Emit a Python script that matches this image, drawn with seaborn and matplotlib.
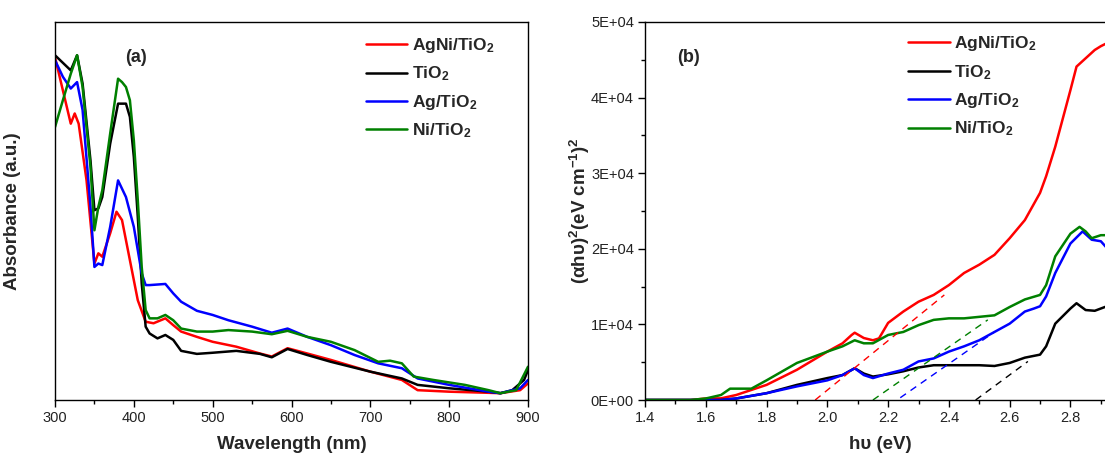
import numpy as np
import pandas as pd
import matplotlib
matplotlib.use("Agg")
import matplotlib.pyplot as plt
import seaborn as sns
from matplotlib.ticker import MultipleLocator, FixedLocator, FuncFormatter

# ---------------- data: panel (a) absorbance (arbitrary units) ----------------
series_names = ["AgNi/TiO$_\\mathbf{2}$", "TiO$_\\mathbf{2}$", "Ag/TiO$_\\mathbf{2}$", "Ni/TiO$_\\mathbf{2}$"]
series_colors = ["#FF0000", "#000000", "#0000FF", "#008000"]

wl_agni = [300, 310, 320, 325, 330, 340, 350, 355, 360, 370, 378, 385, 395, 405, 415, 425, 440, 450, 460,
           480, 500, 530, 560, 575, 595, 620, 650, 700, 740, 760, 800, 850, 865, 890, 900]
abs_agni = [0.907, 0.819, 0.731, 0.758, 0.731, 0.581, 0.361, 0.388, 0.379, 0.441, 0.498, 0.476, 0.370,
            0.264, 0.207, 0.203, 0.216, 0.198, 0.181, 0.167, 0.154, 0.141, 0.123, 0.115, 0.137, 0.123,
            0.106, 0.075, 0.053, 0.026, 0.022, 0.019, 0.018, 0.026, 0.044]

wl_tio2 = [300, 320, 328, 335, 345, 350, 355, 360, 370, 380, 390, 395, 400, 405, 410, 415, 420, 430, 440,
           450, 460, 480, 500, 530, 560, 575, 595, 620, 650, 700, 740, 760, 800, 850, 865, 880, 895, 900]
abs_tio2 = [0.912, 0.872, 0.912, 0.837, 0.634, 0.502, 0.507, 0.537, 0.678, 0.784, 0.784, 0.749, 0.643,
            0.485, 0.308, 0.194, 0.176, 0.163, 0.172, 0.159, 0.130, 0.122, 0.125, 0.130, 0.122, 0.113,
            0.135, 0.119, 0.101, 0.075, 0.057, 0.040, 0.031, 0.022, 0.018, 0.026, 0.053, 0.079]

wl_ag = [300, 310, 320, 328, 335, 345, 350, 355, 360, 370, 380, 390, 400, 410, 415, 420, 440, 450, 460,
         480, 500, 520, 550, 575, 595, 620, 650, 680, 710, 740, 760, 800, 850, 865, 890, 900]
abs_ag = [0.899, 0.855, 0.824, 0.841, 0.767, 0.511, 0.352, 0.361, 0.357, 0.458, 0.581, 0.537, 0.458,
          0.335, 0.304, 0.304, 0.307, 0.282, 0.260, 0.236, 0.225, 0.211, 0.194, 0.178, 0.189, 0.167,
          0.145, 0.119, 0.097, 0.084, 0.057, 0.040, 0.022, 0.018, 0.031, 0.053]

wl_ni = [300, 310, 320, 328, 335, 345, 350, 355, 360, 370, 380, 385, 390, 395, 400, 405, 410, 415, 420,
         430, 440, 450, 460, 480, 500, 520, 550, 575, 595, 620, 650, 680, 710, 725, 740, 755, 780, 820,
         850, 865, 885, 900]
abs_ni = [0.722, 0.793, 0.863, 0.912, 0.828, 0.617, 0.449, 0.511, 0.555, 0.705, 0.850, 0.841, 0.828,
          0.793, 0.687, 0.529, 0.352, 0.238, 0.216, 0.216, 0.225, 0.211, 0.189, 0.181, 0.181, 0.185,
          0.181, 0.174, 0.183, 0.167, 0.154, 0.132, 0.101, 0.104, 0.097, 0.062, 0.053, 0.040, 0.026,
          0.018, 0.026, 0.088]

# ---------------- data: panel (b) Tauc plot ----------------
ev_agni = [1.40, 1.55, 1.60, 1.65, 1.70, 1.80, 1.90, 2.00, 2.05, 2.08, 2.09, 2.12, 2.15, 2.17, 2.20, 2.25,
           2.30, 2.35, 2.40, 2.45, 2.50, 2.55, 2.60, 2.65, 2.70, 2.72, 2.75, 2.78, 2.80, 2.82, 2.85, 2.88,
           2.90, 2.92, 2.95]
tauc_agni = [0, 0, 200, 220, 660, 2000, 4000, 6400, 7500, 8600, 8900, 8200, 7900, 8150, 10200, 11700,
             13000, 13900, 15200, 16800, 17900, 19200, 21400, 23800, 27400, 29600, 33500, 38000, 41000,
             44100, 45200, 46300, 46800, 47200, 47500]

ev_tio2 = [1.40, 1.65, 1.70, 1.80, 1.90, 2.00, 2.05, 2.09, 2.12, 2.15, 2.20, 2.25, 2.30, 2.35, 2.40, 2.50,
           2.55, 2.60, 2.65, 2.70, 2.72, 2.75, 2.80, 2.82, 2.85, 2.88, 2.90, 2.92, 2.95]
tauc_tio2 = [0, 0, 200, 900, 2000, 2900, 3300, 4200, 3500, 3100, 3400, 3800, 4300, 4600, 4600, 4600,
             4500, 4900, 5600, 6000, 7100, 10100, 12100, 12800, 11900, 11800, 12100, 12400, 12500]

ev_ag = [1.40, 1.65, 1.70, 1.80, 1.90, 2.00, 2.05, 2.09, 2.12, 2.15, 2.20, 2.25, 2.30, 2.35, 2.40, 2.45,
         2.50, 2.55, 2.60, 2.65, 2.68, 2.70, 2.72, 2.75, 2.80, 2.84, 2.87, 2.90, 2.92, 2.95]
tauc_ag = [0, 0, 200, 900, 1800, 2600, 3300, 4200, 3300, 2900, 3500, 4000, 5100, 5500, 6400, 7100,
           7900, 9000, 10100, 11700, 12100, 12400, 13700, 16800, 20700, 22300, 21200, 21000, 20100, 19500]

ev_ni = [1.40, 1.55, 1.60, 1.65, 1.68, 1.70, 1.75, 1.80, 1.90, 2.00, 2.05, 2.09, 2.12, 2.15, 2.20, 2.25,
         2.30, 2.35, 2.40, 2.45, 2.50, 2.55, 2.60, 2.65, 2.70, 2.72, 2.75, 2.80, 2.83, 2.85, 2.87, 2.90,
         2.92, 2.95]
tauc_ni = [0, 0, 200, 660, 1500, 1500, 1500, 2600, 4900, 6400, 7100, 7900, 7500, 7500, 8600, 9000,
           9900, 10600, 10800, 10800, 11000, 11200, 12300, 13300, 13900, 15200, 19000, 22000, 22900,
           22300, 21400, 21800, 21800, 21900]

# tangent (band-gap extrapolation) lines: start/end points
fit_agni_x = [1.96, 2.385]
fit_agni_y = [0, 13900]
fit_tio2_x = [2.488, 2.66]
fit_tio2_y = [0, 5100]
fit_ag_x = [2.24, 2.55]
fit_ag_y = [300, 9000]
fit_ni_x = [2.15, 2.528]
fit_ni_y = [0, 10600]

ev_tick_labels = ["1.4", "1.6", "1.8", "2.0", "2.2", "2.4", "2.6", "2.8"]

# ---------------- style ----------------
sns.set_style("ticks")
plt.rcParams["font.family"] = ["Liberation Sans", "DejaVu Sans"]
plt.rcParams["mathtext.fontset"] = "custom"
plt.rcParams["mathtext.rm"] = "Liberation Sans"
plt.rcParams["mathtext.it"] = "Liberation Sans:italic"
plt.rcParams["mathtext.bf"] = "Liberation Sans:bold"
plt.rcParams["axes.linewidth"] = 1.0
plt.rcParams["xtick.direction"] = "out"
plt.rcParams["ytick.direction"] = "out"

W, H = 1105, 462
fig = plt.figure(figsize=(W / 100, H / 100), dpi=100)

def frac(x0, y0, x1, y1):
    return [x0 / W, 1 - y1 / H, (x1 - x0) / W, (y1 - y0) / H]

ax1 = fig.add_axes(frac(55, 22, 528, 400))
ax2 = fig.add_axes(frac(645, 22, 1192, 400))

def long_df(xs, ys):
    frames = []
    for name, x, y in zip(series_names, xs, ys):
        frames.append(pd.DataFrame({"x": x, "y": y, "sample": name}))
    return pd.concat(frames, ignore_index=True)

pal = dict(zip(series_names, series_colors))

df_a = long_df([wl_agni, wl_tio2, wl_ag, wl_ni], [abs_agni, abs_tio2, abs_ag, abs_ni])
df_b = long_df([ev_agni, ev_tio2, ev_ag, ev_ni], [tauc_agni, tauc_tio2, tauc_ag, tauc_ni])

sns.lineplot(data=df_a, x="x", y="y", hue="sample", hue_order=series_names, palette=pal,
             estimator=None, sort=False, linewidth=1.8, ax=ax1)
sns.lineplot(data=df_b, x="x", y="y", hue="sample", hue_order=series_names, palette=pal,
             estimator=None, sort=False, linewidth=1.8, ax=ax2)

for fx, fy, c in zip([fit_agni_x, fit_tio2_x, fit_ag_x, fit_ni_x],
                     [fit_agni_y, fit_tio2_y, fit_ag_y, fit_ni_y], series_colors):
    ax2.plot(fx, fy, linestyle=(0, (5, 4)), color=c, linewidth=1.0)

# ---------------- panel (a) axes ----------------
ax1.set_xlim(300, 900)
ax1.set_ylim(0, 1.0)
ax1.set_yticks([])
ax1.xaxis.set_major_locator(MultipleLocator(100))
ax1.xaxis.set_minor_locator(MultipleLocator(50))
ax1.tick_params(axis="x", which="major", length=5, width=1, labelsize=10.5, color="black",
                labelcolor="#222222", pad=3)
ax1.tick_params(axis="x", which="minor", length=3, width=1, color="black")
ax1.set_xlabel("Wavelength (nm)", fontsize=13.5, fontweight="bold")
ax1.xaxis.set_label_coords(0.5, -0.095)
ax1.set_ylabel("Absorbance (a.u.)", fontsize=13.5, fontweight="bold")
ax1.yaxis.set_label_coords(-0.072, 0.5)
for s in ax1.spines.values():
    s.set_visible(True)
    s.set_color("black")
ax1.text(0.172, 0.905, "(a)", transform=ax1.transAxes, fontsize=13, fontweight="bold",
         ha="center", va="center")

h, l = ax1.get_legend_handles_labels()
ax1.legend(h, series_names, loc="upper left", bbox_to_anchor=(0.635, 0.99), frameon=False,
           prop={"size": 12.5, "weight": "bold"}, handlelength=2.4, handletextpad=0.25,
           labelspacing=0.55, borderaxespad=0.2)

# ---------------- panel (b) axes ----------------
ax2.set_xlim(1.4, 3.2)
ax2.set_ylim(0, 50000)
ax2.xaxis.set_major_locator(FixedLocator([float(t) for t in ev_tick_labels]))
ax2.xaxis.set_minor_locator(MultipleLocator(0.1))
ax2.yaxis.set_major_locator(MultipleLocator(10000))
ax2.yaxis.set_minor_locator(MultipleLocator(5000))
ax2.xaxis.set_major_formatter(FuncFormatter(lambda v, p: f"{v:.1f}"))
ax2.yaxis.set_major_formatter(FuncFormatter(lambda v, p: f"{v:.0E}"))
ax2.tick_params(axis="both", which="major", length=5, width=1, labelsize=10.5, color="black",
                labelcolor="#222222", pad=3)
ax2.tick_params(axis="both", which="minor", length=3, width=1, color="black")
ax2.set_xlabel("h\u03c5 (eV)", fontsize=13.5, fontweight="bold")
ax2.xaxis.set_label_coords((880 - 645) / (1192 - 645), -0.095)
ax2.set_ylabel(r"$\mathbf{(\alpha h\upsilon)^2(eV\ cm^{-1})^2}$", fontsize=13.5)
ax2.yaxis.set_label_coords(-0.097, 0.5)
for s in ax2.spines.values():
    s.set_visible(True)
    s.set_color("black")
ax2.text((688 - 645) / (1192 - 645), 0.905, "(b)", transform=ax2.transAxes, fontsize=13,
         fontweight="bold", ha="center", va="center")

h, l = ax2.get_legend_handles_labels()
ax2.legend(h[:4], series_names, loc="upper left", bbox_to_anchor=((898 - 645) / (1192 - 645), 0.995),
           frameon=False, prop={"size": 12.5, "weight": "bold"}, handlelength=2.4,
           handletextpad=0.25, labelspacing=0.55, borderaxespad=0.2)

fig.savefig("out.png", dpi=100)
